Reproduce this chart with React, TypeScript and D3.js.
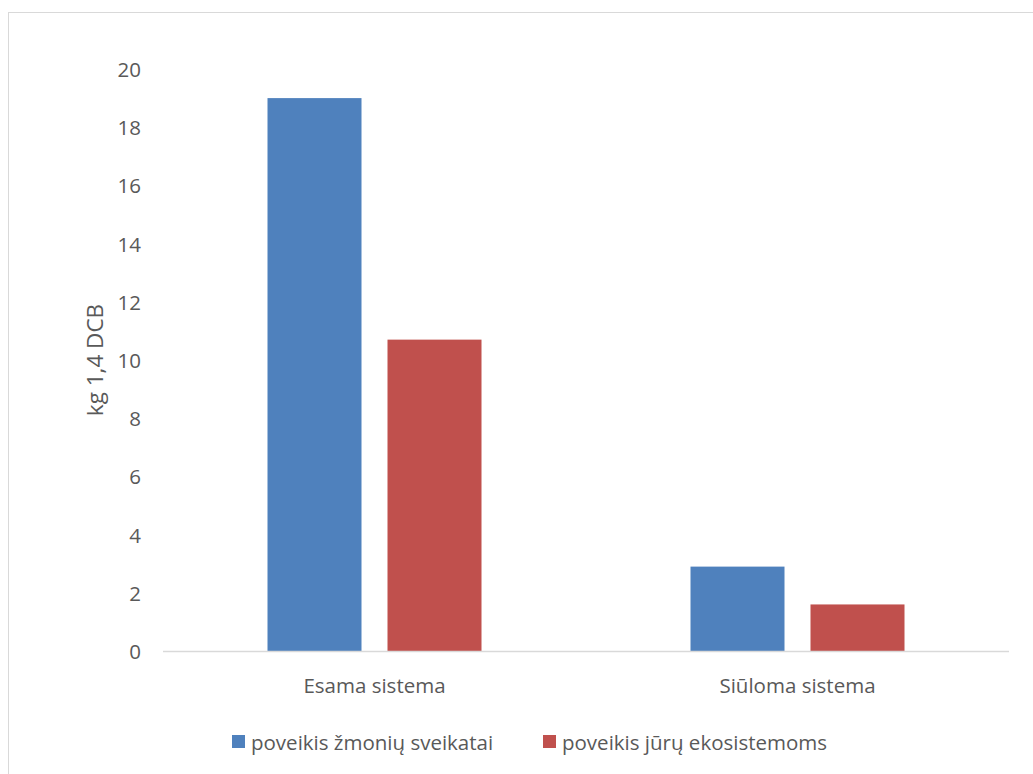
import React from "react";
import * as d3 from "d3";

const categories = ["Esama sistema", "Siūloma sistema"];
const seriesNames = ["poveikis žmonių sveikatai", "poveikis jūrų ekosistemoms"];
const humanHealth = [19.0, 2.9];
const marineEco = [10.7, 1.6];
const yTicks = [0, 2, 4, 6, 8, 10, 12, 14, 16, 18, 20];
const colors = ["#4f81bd", "#c0504d"];

const W = 1033;
const H = 774;
const plot = { left: 163, right: 1009, top: 69, bottom: 651 };
const font = "'Open Sans', 'Liberation Sans', sans-serif";
const textColor = "#595959";
const fs = 20.5;

export default function App() {
  const x0 = d3.scaleBand<string>().domain(categories).range([plot.left, plot.right]).paddingInner(0).paddingOuter(0);
  const y = d3.scaleLinear().domain([0, 20]).range([plot.bottom, plot.top]);
  const series = [humanHealth, marineEco];
  const barW = 94;
  const gap = 26;

  return (
    <svg width={W} height={H} style={{ position: "absolute", left: 0, top: 0, background: "#fff" }}>
      <rect x={8.5} y={12.5} width={W + 10} height={H + 10} fill="#fff" stroke="#d9d9d9" strokeWidth={1} />
      {yTicks.map((t) => (
        <text key={t} x={141} y={y(t)} textAnchor="end" dominantBaseline="central" fontFamily={font} fontSize={fs} fill={textColor}>
          {t}
        </text>
      ))}
      <text
        transform={`translate(94,${(plot.top + plot.bottom) / 2}) rotate(-90)`}
        textAnchor="middle"
        dominantBaseline="central"
        fontFamily={font}
        fontSize={22.5}
        fill={textColor}
      >
        kg 1,4 DCB
      </text>
      {categories.map((c, ci) => {
        const cx = (x0(c) as number) + x0.bandwidth() / 2;
        const groupW = barW * 2 + gap;
        return (
          <g key={c}>
            {series.map((s, si) => {
              const bx = cx - groupW / 2 + si * (barW + gap);
              return (
                <rect key={si} x={bx} y={y(s[ci])} width={barW} height={y(0) - y(s[ci])} fill={colors[si]} />
              );
            })}
            <text x={cx} y={685} textAnchor="middle" dominantBaseline="central" fontFamily={font} fontSize={fs} fill={textColor}>
              {c}
            </text>
          </g>
        );
      })}
      <line x1={plot.left} x2={plot.right} y1={y(0) + 0.5} y2={y(0) + 0.5} stroke="#d9d9d9" strokeWidth={1.5} />
      {seriesNames.map((n, i) => {
        const lx = [232, 543][i];
        return (
          <g key={n}>
            <rect x={lx} y={735} width={13} height={13} fill={colors[i]} />
            <text x={lx + 19} y={742} dominantBaseline="central" fontFamily={font} fontSize={fs} fill={textColor}>
              {n}
            </text>
          </g>
        );
      })}
    </svg>
  );
}
